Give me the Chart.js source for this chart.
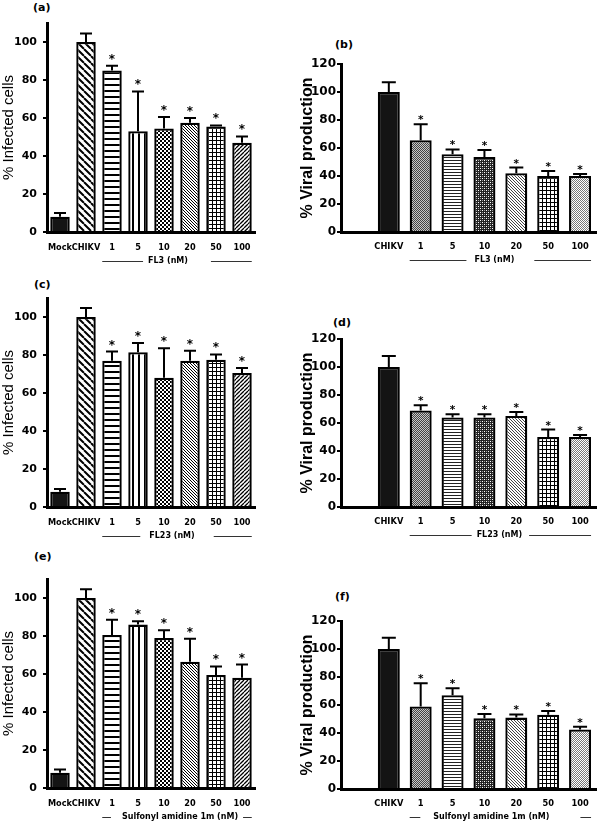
<!DOCTYPE html>
<html>
<head>
<meta charset="utf-8">
<script src="https://cdn.jsdelivr.net/npm/chart.js@4/dist/chart.umd.min.js"></script>
<style>
html, body { margin: 0; padding: 0; background: #fff; width: 600px; height: 825px; overflow: hidden; position: relative; }
canvas { position: absolute; }
.tag { position: absolute; font: bold 11px "DejaVu Sans", sans-serif; line-height: 16px; color: #000; }
</style>
</head>
<body>
<div class="tag" style="left:33px;top:0px">(a)</div>
<div class="tag" style="left:335px;top:37px">(b)</div>
<div class="tag" style="left:34px;top:277px">(c)</div>
<div class="tag" style="left:333px;top:315px">(d)</div>
<div class="tag" style="left:34px;top:549px">(e)</div>
<div class="tag" style="left:335px;top:589px">(f)</div>

<canvas id="a" width="300" height="270" style="left:0;top:0"></canvas>
<canvas id="b" width="302" height="245" style="left:298px;top:34px"></canvas>
<canvas id="c" width="300" height="270" style="left:0;top:275px"></canvas>
<canvas id="d" width="302" height="245" style="left:298px;top:309px"></canvas>
<canvas id="e" width="300" height="269" style="left:0;top:556px"></canvas>
<canvas id="f" width="302" height="234" style="left:298px;top:591px"></canvas>

<script>
// categories
const infectedCats = ['Mock', 'CHIKV', '1', '5', '10', '20', '50', '100'];
const viralCats = ['', 'CHIKV', '1', '5', '10', '20', '50', '100'];
const infectedTicks = [0, 20, 40, 60, 80, 100];
const viralTicks = [0, 20, 40, 60, 80, 100, 120];
const infectedStars = [0, 0, 1, 1, 1, 1, 1, 1];
const viralStars = [0, 0, 1, 1, 1, 1, 1, 1];

// (a) FL3, % infected cells
const fl3Infected = [8, 100, 85, 53, 54.5, 57.5, 55.5, 47];
const fl3InfectedSd = [2, 4.5, 2.5, 21, 6, 2.5, 0.6, 3.3];
// (b) FL3, % viral production
const fl3Viral = [null, 100, 65.5, 55.5, 53.5, 42, 40, 40];
const fl3ViralSd = [null, 7, 11.5, 3.5, 5, 4, 3.5, 1.5];
// (c) FL23
const fl23Infected = [8, 100, 77, 81.5, 68, 77, 77.5, 70.5];
const fl23InfectedSd = [1.5, 4.8, 4.8, 4.8, 15.5, 5.3, 2.8, 2.7];
// (d)
const fl23Viral = [null, 100, 69, 64, 64, 65, 50, 50];
const fl23ViralSd = [null, 7.8, 3.6, 2.2, 2.2, 2.9, 5.3, 1.5];
// (e) sulfonyl amidine 1m
const sa1mInfected = [8, 100, 80.5, 86, 79, 66.5, 59.5, 58];
const sa1mInfectedSd = [1.7, 4.6, 8, 1.7, 4, 12, 4.5, 7];
// (f)
const sa1mViral = [null, 100, 59, 67, 50.5, 51, 53, 42.5];
const sa1mViralSd = [null, 8, 16.5, 5, 3, 2.3, 2.8, 2];

// fill patterns
function tile(size, draw, bg) {
    const c = document.createElement('canvas');
    c.width = c.height = size;
    const g = c.getContext('2d');
    g.fillStyle = bg || '#fff';
    g.fillRect(0, 0, size, size);
    draw(g, size);
    return g.createPattern(c, 'repeat');
}
function diag(size, width, color, forward) {
    return tile(size, (g, s) => {
        g.strokeStyle = color;
        g.lineWidth = width;
        g.beginPath();
        for (const k of [-s, 0, s]) {
            if (forward) { g.moveTo(k, s); g.lineTo(k + s, 0); }
            else { g.moveTo(k, 0); g.lineTo(k + s, s); }
        }
        g.stroke();
    });
}
function px(g, pts, color) {
    g.fillStyle = color;
    pts.forEach(p => g.fillRect(p[0], p[1], 1, 1));
}

const infectedFills = [
    '#141414',
    diag(7, 2, '#000', false),
    tile(6, g => { g.fillStyle = '#000'; g.fillRect(0, 0, 6, 2); }),
    tile(6, g => { g.fillStyle = '#000'; g.fillRect(0, 0, 2, 6); }),
    tile(4, g => { g.fillStyle = '#000'; g.fillRect(0, 0, 2, 2); g.fillRect(2, 2, 2, 2); }),
    diag(3, 1, '#000', false),
    tile(4, g => { g.fillStyle = '#000'; g.fillRect(0, 0, 4, 1); g.fillRect(0, 0, 1, 4); }),
    diag(4, 1.3, '#000', true)
];
const viralFills = [
    '#fff',
    '#141414',
    tile(2, g => px(g, [[0, 0], [1, 1]], '#444'), '#c8c8c8'),
    tile(3, g => { g.fillStyle = '#222'; g.fillRect(0, 0, 3, 1); }),
    tile(4, g => { px(g, [[0, 0], [2, 2]], '#fff'); px(g, [[2, 0], [0, 2]], '#999'); }, '#222'),
    diag(3, 1, '#444', false),
    tile(4, g => { g.fillStyle = '#000'; g.fillRect(0, 0, 4, 1); g.fillRect(0, 0, 1, 4); }),
    tile(2, g => px(g, [[0, 0], [1, 1]], '#777'))
];

// error bars, asterisks and the dose bracket under the axis
function extras(means, sd, stars, group, look) {
    return {
        id: 'extras',
        afterDatasetsDraw(chart) {
            const ctx = chart.ctx;
            const y = chart.scales.y;
            const meta = chart.getDatasetMeta(0);
            ctx.save();
            ctx.strokeStyle = '#000';
            ctx.fillStyle = '#000';
            ctx.lineWidth = 2;
            means.forEach((v, i) => {
                if (v == null) return;
                const bar = meta.data[i];
                const top = y.getPixelForValue(v + sd[i]);
                const base = y.getPixelForValue(v);
                ctx.beginPath();
                ctx.moveTo(bar.x, base);
                ctx.lineTo(bar.x, top);
                ctx.moveTo(bar.x - look.cap, top);
                ctx.lineTo(bar.x + look.cap, top);
                ctx.stroke();
                if (stars[i]) {
                    ctx.font = look.starFont;
                    ctx.textAlign = 'center';
                    ctx.textBaseline = 'alphabetic';
                    ctx.fillText('*', bar.x, top - look.starLift);
                }
            });
            // bracket with the compound name
            const first = meta.data[2], last = meta.data[7];
            const L = first.x - first.width / 2, R = last.x + last.width / 2;
            const mid = (L + R) / 2;
            const gy = chart.chartArea.bottom + look.groupDy;
            ctx.font = look.groupFont;
            const tw = ctx.measureText(group).width;
            ctx.textAlign = 'center';
            ctx.textBaseline = 'middle';
            ctx.fillText(group, mid + look.shift, gy);
            ctx.strokeStyle = '#333';
            ctx.lineWidth = 1;
            ctx.beginPath();
            ctx.moveTo(L, gy + 0.5); ctx.lineTo(mid - tw / 2 - look.gap, gy + 0.5);
            ctx.moveTo(mid + tw / 2 + look.gap, gy + 0.5); ctx.lineTo(R, gy + 0.5);
            ctx.stroke();
            ctx.restore();
        }
    };
}

const infectedLook = {
    max: 110, ticks: infectedTicks, fills: infectedFills, cats: infectedCats, stars: infectedStars,
    yWidth: 47, padTop: 23, padRight: 45, plotH: 209, barPct: 0.75,
    tickFont: { family: 'DejaVu Sans', size: 11, weight: 'bold' }, tickPad: 6,
    title: '% Infected cells', titleFont: { family: 'Liberation Sans', size: 15, weight: 'normal' },
    xFont: { family: 'DejaVu Sans', size: 8.2, weight: 'bold' }, xPad: 11,
    cap: 6, starFont: 'bold 12px "DejaVu Sans"', starLift: 3,
    groupFont: 'bold 8px "DejaVu Sans"', groupDy: 29
};
const viralLook = {
    max: 120, ticks: viralTicks, fills: viralFills, cats: viralCats, stars: viralStars,
    yWidth: 43, padTop: 30, padRight: 4, plotH: 168, barPct: 0.69,
    tickFont: { family: 'DejaVu Sans', size: 12, weight: 'bold' }, tickPad: 1,
    title: '% Viral production', titleFont: { family: 'Liberation Sans', size: 16, weight: 'bold' },
    xFont: { family: 'DejaVu Sans', size: 8.3, weight: 'bold' }, xPad: 10,
    cap: 7, starFont: 'bold 10.5px "DejaVu Sans"', starLift: 1,
    groupFont: 'bold 8px "DejaVu Sans"', groupDy: 28
};

const panels = [
    { id: 'a', look: infectedLook, means: fl3Infected, sd: fl3InfectedSd, group: 'FL3 (nM)', shift: -9, gap: 14 },
    { id: 'b', look: viralLook, means: fl3Viral, sd: fl3ViralSd, group: 'FL3 (nM)', shift: -6, gap: 14 },
    { id: 'c', look: infectedLook, means: fl23Infected, sd: fl23InfectedSd, group: 'FL23 (nM)', shift: -5, gap: 14 },
    { id: 'd', look: viralLook, means: fl23Viral, sd: fl23ViralSd, group: 'FL23 (nM)', shift: -1, gap: 6 },
    { id: 'e', look: infectedLook, means: sa1mInfected, sd: sa1mInfectedSd, group: 'Sulfonyl amidine 1m (nM)', shift: 3, gap: 8 },
    { id: 'f', look: viralLook, means: sa1mViral, sd: sa1mViralSd, group: 'Sulfonyl amidine 1m (nM)', shift: -9, gap: 22 }
];

panels.forEach(p => {
    const look = p.look;
    const el = document.getElementById(p.id);
    const xHeight = el.height - look.padTop - look.plotH;
    new Chart(el, {
        type: 'bar',
        data: {
            labels: look.cats,
            datasets: [{
                data: p.means,
                backgroundColor: look.fills,
                borderColor: '#000',
                borderWidth: 2.3,
                borderSkipped: 'start',
                barPercentage: look.barPct,
                categoryPercentage: 1
            }]
        },
        options: {
            responsive: false,
            animation: false,
            events: [],
            layout: { padding: { left: 0, top: look.padTop, right: look.padRight, bottom: 0 } },
            plugins: { legend: { display: false }, tooltip: { enabled: false } },
            scales: {
                x: {
                    z: 1,
                    grid: { display: false, drawTicks: false },
                    border: { display: true, color: '#000', width: 3 },
                    ticks: { color: '#000', font: look.xFont, padding: look.xPad, maxRotation: 0, autoSkip: false },
                    afterFit: s => { s.height = xHeight; }
                },
                y: {
                    z: 1,
                    min: 0,
                    max: look.max,
                    afterBuildTicks: s => { s.ticks = look.ticks.map(v => ({ value: v })); },
                    grid: { drawOnChartArea: false, drawTicks: true, tickLength: 4, color: '#000', lineWidth: 2 },
                    border: { display: true, color: '#000', width: 3 },
                    ticks: { color: '#000', font: look.tickFont, padding: look.tickPad },
                    title: { display: true, text: look.title, color: '#000', font: look.titleFont, padding: 0 },
                    afterFit: s => { s.width = look.yWidth; }
                }
            }
        },
        plugins: [extras(p.means, p.sd, look.stars, p.group,
            Object.assign({}, look, { shift: p.shift, gap: p.gap }))]
    });
});
</script>
</body>
</html>
